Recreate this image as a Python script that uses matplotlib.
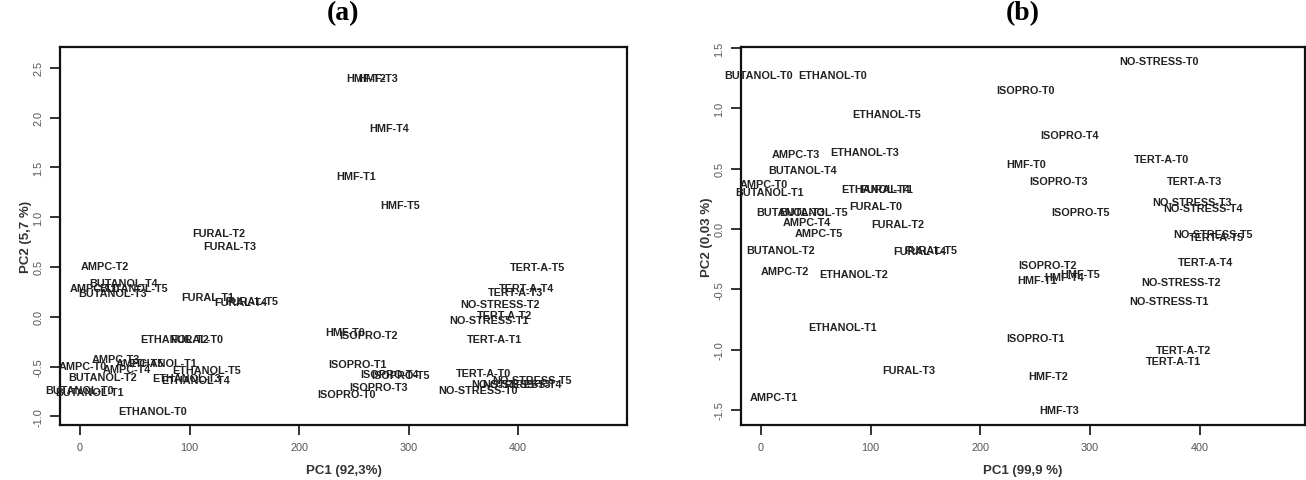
import matplotlib
matplotlib.use("Agg")
import matplotlib.pyplot as plt

groups = ["AMPC", "BUTANOL", "ETHANOL", "FURAL", "HMF", "ISOPRO", "NO-STRESS", "TERT-A"]
times = ["T0", "T1", "T2", "T3", "T4", "T5"]
labels = [g + "-" + t for g in groups for t in times]

# panel (a) scores, in the same order as labels
pc1_a = [3, 12.8, 22.4, 33, 43, 55,
         0, 9, 20.5, 30, 40, 49,
         66, 75.5, 86.5, 97, 106, 116,
         107, 117, 127, 137, 147, 157,
         242.5, 252, 261, 272, 282, 292,
         243, 253, 263, 273, 283, 293,
         363, 373, 383.5, 394, 404, 413,
         368, 378, 388, 398, 408, 418]
pc2_a = [-0.49, 0.29, 0.51, -0.42, -0.52, -0.46,
         -0.74, -0.76, -0.61, 0.24, 0.34, 0.29,
         -0.95, -0.46, -0.22, -0.62, -0.64, -0.53,
         -0.22, 0.20, 0.84, 0.71, 0.15, 0.16,
         -0.15, 1.41, 2.40, 2.40, 1.89, 1.12,
         -0.78, -0.47, -0.18, -0.71, -0.57, -0.59,
         -0.74, -0.03, 0.13, -0.68, -0.68, -0.64,
         -0.56, -0.22, 0.02, 0.25, 0.29, 0.50]

# panel (b) scores
pc1_b = [2.5, 12, 22, 32, 42, 52.6,
         -2, 7.7, 18, 27, 38, 48,
         65, 74, 84.5, 94.5, 105, 114.5,
         105, 115, 125, 135, 145, 155,
         241.5, 251.5, 261.6, 271.6, 276, 291,
         241, 250.5, 261, 271, 281, 291,
         362.6, 372, 382.7, 393, 403, 411.7,
         365.5, 375.6, 385.6, 395.6, 405.5, 415]
pc2_b = [0.37, -1.39, -0.35, 0.62, 0.06, -0.03,
         1.28, 0.31, -0.17, 0.14, 0.49, 0.14,
         1.28, -0.81, -0.37, 0.64, 0.33, 0.95,
         0.19, 0.33, 0.04, -1.17, -0.18, -0.17,
         0.54, -0.42, -1.22, -1.50, -0.40, -0.37,
         1.15, -0.90, -0.30, 0.40, 0.78, 0.14,
         1.39, -0.60, -0.44, 0.22, 0.17, -0.04,
         0.58, -1.09, -1.00, 0.40, -0.27, -0.07]

xticks = [0, 100, 200, 300, 400]
yticks_a = [-1.0, -0.5, 0.0, 0.5, 1.0, 1.5, 2.0, 2.5]
yticks_b = [-1.5, -1.0, -0.5, 0.0, 0.5, 1.0, 1.5]

plt.rcParams['font.family'] = ['Liberation Sans', 'DejaVu Sans']

fig = plt.figure(figsize=(13.06, 4.81), dpi=100)
W, H = 1306.0, 481.0


def panel(left, right, xs, ys, yticks, xlim, ylim, xlabel, ylabel, title):
    ax = fig.add_axes([left / W, (H - 426) / H, (right - left) / W, 378 / H])
    for lab, x, y in zip(labels, xs, ys):
        ax.text(x, y, lab, ha='center', va='center', fontsize=7.8,
                fontweight='bold', color='#222222')
    ax.set_xlim(*xlim)
    ax.set_ylim(*ylim)
    ax.set_xticks(xticks)
    ax.set_xticklabels([str(t) for t in xticks])
    ax.set_yticks(yticks)
    ax.set_yticklabels(["%.1f" % t for t in yticks], rotation=90, va='center')
    ax.tick_params(direction='out', length=7, width=1.3, colors='#222222',
                   labelcolor='#555555', labelsize=7.8, pad=5)
    for s in ax.spines.values():
        s.set_linewidth(1.6)
        s.set_color('#111111')
    ax.set_xlabel(xlabel, fontsize=9.5, fontweight='bold', color='#333333', labelpad=9)
    ax.set_ylabel(ylabel, fontsize=9.5, fontweight='bold', color='#333333', labelpad=1)
    fig.text((left + right) / 2 / W, 1 - 14 / H, title, ha='center', va='center',
             fontsize=20, fontweight='bold', family='Liberation Serif')
    return ax


panel(60, 627, pc1_a, pc2_a, yticks_a, (-18.3, 499.5), (-1.087, 2.708),
      "PC1 (92,3%)", "PC2 (5,7 %)", "(a)")
panel(741, 1305, pc1_b, pc2_b, yticks_b, (-18.2, 496), (-1.624, 1.508),
      "PC1 (99,9 %)", "PC2 (0,03 %)", "(b)")

plt.savefig('out.png', dpi=100)
